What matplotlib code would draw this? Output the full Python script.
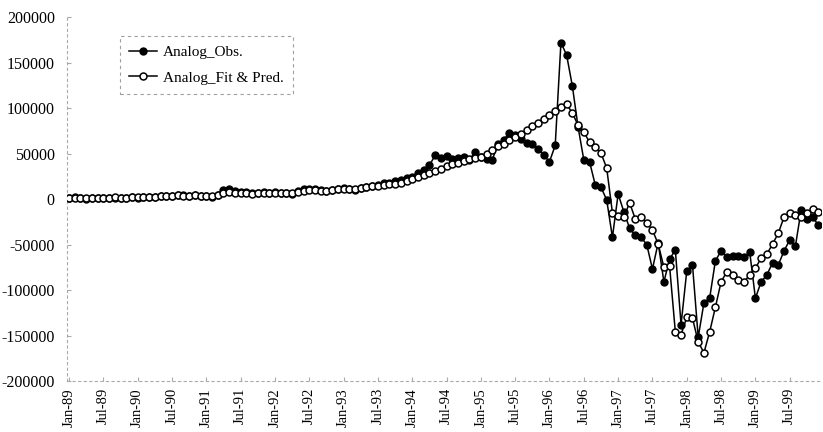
import numpy as np
import matplotlib
matplotlib.use("Agg")
import matplotlib.pyplot as plt
import matplotlib.transforms as mtransforms

plt.rcParams['font.family'] = ['Liberation Serif', 'DejaVu Serif']

# monthly values, Jan-89 .. Dec-99
obs = [
    1500, 2500, 1500, 500, 1000, 1500, 1000, 1500, 1500, 1000, 1500, 2000,
    1500, 2000, 2500, 2000, 3000, 3500, 3000, 4500, 4000, 3000, 4500, 3500,
    3000, 2500, 4000, 10000, 11000, 9000, 7500, 8000, 6500, 7000, 7500, 6500,
    7500, 7000, 6500, 5500, 9000, 11000, 11500, 10500, 9500, 8500, 10000, 10500,
    12000, 11500, 10000, 12500, 13500, 14500, 15000, 17500, 18000, 19500, 21000, 23000,
    24000, 28500, 32000, 37000, 48000, 45000, 47000, 44000, 45000, 46000, 43000, 52000,
    46000, 44000, 43000, 61000, 65000, 73000, 70000, 66000, 62000, 60000, 55000, 48000,
    41000, 59000, 172000, 158000, 124000, 79000, 43000, 41000, 15500, 13000, -1000, -42000,
    5500, -14000, -32000, -40000, -42000, -50000, -77000, -48000, -91000, -66000, -56000, -138000,
    -79000, -72500, -152000, -114000, -109000, -68000, -57000, -64000, -63000, -63000, -64000, -58000,
    -109000, -91000, -83500, -70000, -72500, -57000, -45000, -51500, -12000, -22000, -20000, -28500,
]

fit = [
    1000, 1500, 1500, 1000, 1000, 1500, 1500, 1500, 2000, 1500, 1500, 2000,
    2000, 2000, 2500, 2500, 3000, 3000, 3500, 4000, 3500, 3500, 4000, 3500,
    3500, 3500, 4000, 6500, 7500, 7000, 6500, 6500, 6000, 6500, 6500, 6500,
    7000, 7000, 6500, 6500, 8000, 9000, 9500, 9500, 9000, 9000, 9500, 10500,
    10500, 11000, 11000, 12000, 13000, 14000, 14500, 15500, 16500, 17000, 18000, 20000,
    22000, 24000, 26000, 28500, 31000, 33500, 36000, 38000, 40000, 42000, 44000, 45500,
    46500, 50000, 54000, 58000, 61000, 64500, 68000, 72000, 76000, 80000, 84000, 88000,
    92000, 96500, 101000, 104000, 94500, 81000, 73500, 62500, 57000, 50500, 34000, -15000,
    -19000, -20000, -4000, -22000, -20000, -26500, -34000, -49500, -75000, -74000, -146000, -149000,
    -130000, -131000, -157000, -169000, -146000, -119000, -91000, -80000, -83500, -89000, -91000, -83500,
    -76000, -65000, -60500, -49500, -37500, -20000, -15000, -17500, -20000, -15000, -11000, -14000,
]

tick_labels = ['Jan-89', 'Jul-89', 'Jan-90', 'Jul-90', 'Jan-91', 'Jul-91', 'Jan-92', 'Jul-92',
               'Jan-93', 'Jul-93', 'Jan-94', 'Jul-94', 'Jan-95', 'Jul-95', 'Jan-96', 'Jul-96',
               'Jan-97', 'Jul-97', 'Jan-98', 'Jul-98', 'Jan-99', 'Jul-99']

months = np.arange(len(obs))

fig = plt.figure(figsize=(8.23, 4.32), dpi=100)
ax = fig.add_axes([0.0818, 0.118, 0.916, 0.8426])

ax.plot(months, obs, color='black', lw=1.1, marker='o', ms=5.0,
        mfc='black', mec='black', label='Analog_Obs.', zorder=3)
ax.plot(months, fit, color='black', lw=1.1, marker='o', ms=5.0,
        mfc='white', mec='black', mew=1.1, label='Analog_Fit & Pred.', zorder=4)

ax.set_xlim(-0.3, 131.5)
ax.set_ylim(-200000, 200000)
ax.set_yticks(np.arange(-200000, 200001, 50000))
ax.set_yticklabels([str(v) for v in range(-200000, 200001, 50000)], fontsize=11.5)
ax.set_xticks(np.arange(0, 132, 6))
ax.set_xticklabels(tick_labels, rotation=90, fontsize=10.5)

# nudge the rotated month labels a little to the right
shift = mtransforms.ScaledTranslation(3 / 100, 0, fig.dpi_scale_trans)
for lbl in ax.get_xticklabels():
    lbl.set_transform(lbl.get_transform() + shift)

for side in ['top', 'right']:
    ax.spines[side].set_visible(False)
for side in ['left', 'bottom']:
    ax.spines[side].set_color('#aaaaaa')
    ax.spines[side].set_linestyle((0, (2, 3)))
    ax.spines[side].set_linewidth(0.8)
ax.tick_params(axis='y', direction='in', length=3, color='#aaaaaa', pad=9)
ax.tick_params(axis='x', direction='in', length=3, color='#aaaaaa', pad=5)

leg = ax.legend(loc='upper left', bbox_to_anchor=(120 / 823, 1 - 36 / 432),
                bbox_transform=fig.transFigure, borderaxespad=0, fontsize=11,
                frameon=True, fancybox=False, handlelength=1.8, handletextpad=0.4,
                borderpad=0.6, labelspacing=0.8)
frame = leg.get_frame()
frame.set_edgecolor('#888888')
frame.set_linestyle((0, (3, 3)))
frame.set_linewidth(0.8)

fig.savefig('out.png', dpi=100)
